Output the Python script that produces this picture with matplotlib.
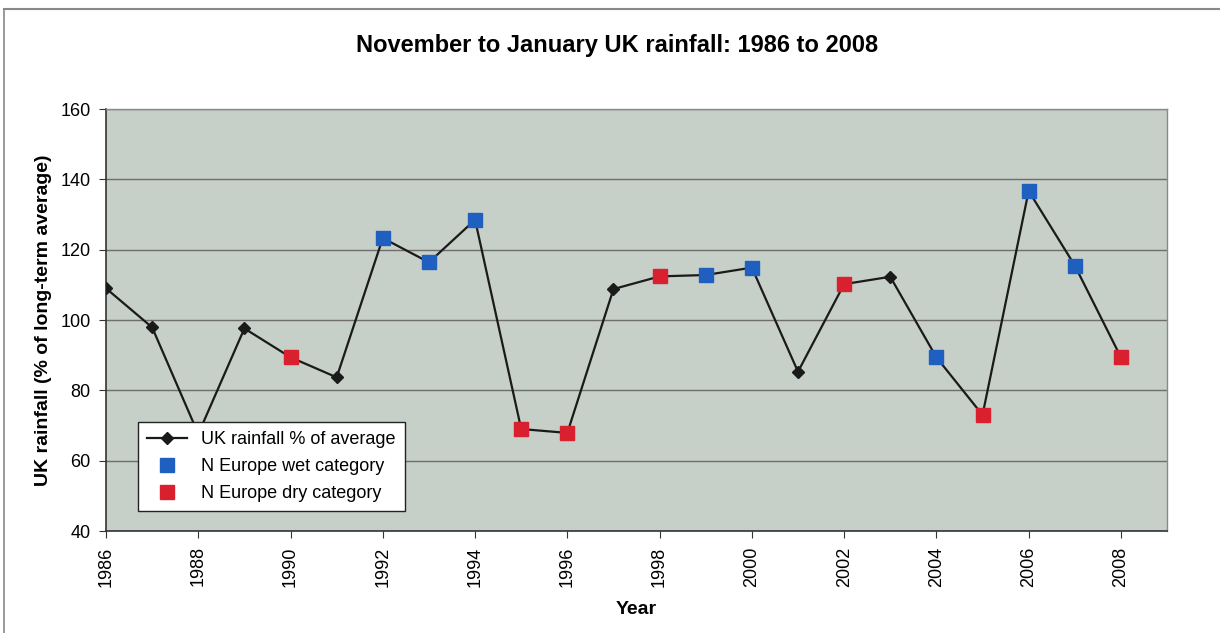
import matplotlib
matplotlib.use('Agg')
import matplotlib.pyplot as plt
from matplotlib.lines import Line2D

plt.rcParams['font.family'] = ['Liberation Sans', 'DejaVu Sans']

# Data
years = list(range(1986, 2009))
rainfall = [109.0, 97.9, 67.6, 97.6, 89.4, 83.7, 123.3, 116.4, 128.5, 69.0,
            67.9, 108.8, 112.4, 112.8, 114.9, 85.3, 110.2, 112.3, 89.4, 73.0,
            136.7, 115.5, 89.4]
wet_years = [1992, 1993, 1994, 1999, 2000, 2004, 2006, 2007]
dry_years = [1990, 1995, 1996, 1998, 2002, 2005, 2008]

wet_vals = [rainfall[years.index(y)] for y in wet_years]
dry_vals = [rainfall[years.index(y)] for y in dry_years]

fig = plt.figure(figsize=(12.2, 6.33), dpi=100)
fig.set_facecolor('white')
ax = fig.add_axes([0.0869, 0.1611, 0.8697, 0.6667])
ax.set_facecolor('#c6cfc8')

# Outer chart border (top and left visible)
fig.add_artist(Line2D([0.003, 1.0], [0.986, 0.986], color='#888888', lw=1.5))
fig.add_artist(Line2D([0.003, 0.003], [0.0, 0.986], color='#888888', lw=1.2))

# Grid lines
ax.set_axisbelow(True)
ax.grid(axis='y', color='#6e6e6e', linewidth=1.0)

# Main line
ax.plot(years, rainfall, color='#1a1a1a', linewidth=1.6, marker='D',
        markersize=6, markerfacecolor='#1a1a1a', zorder=3,
        label='UK rainfall % of average')

# Category markers
ax.plot(wet_years, wet_vals, linestyle='none', marker='s', markersize=10,
        color='#1f5fbf', markeredgecolor='#1f5fbf', zorder=4,
        label='N Europe wet category')
ax.plot(dry_years, dry_vals, linestyle='none', marker='s', markersize=10,
        color='#d9202e', markeredgecolor='#d9202e', zorder=4,
        label='N Europe dry category')

ax.set_xlim(1986, 2009)
ax.set_ylim(40, 160)
ax.set_xticks(range(1986, 2009, 2))
ax.set_yticks(range(40, 161, 20))
ax.tick_params(axis='x', labelrotation=90, labelsize=13, length=5,
               color='#333333', pad=6)
ax.tick_params(axis='y', labelsize=13, length=5, color='#333333', pad=6)

for side in ['left', 'bottom']:
    ax.spines[side].set_color('#333333')
    ax.spines[side].set_linewidth(1.2)
for side in ['top', 'right']:
    ax.spines[side].set_color('#8a8a8a')
    ax.spines[side].set_linewidth(1.0)

# Title and axis labels
fig.text(0.506, 0.928, 'November to January UK rainfall: 1986 to 2008',
         ha='center', va='center', fontsize=17, fontweight='bold')
ax.set_xlabel('Year', fontsize=14, fontweight='bold', labelpad=10)
ax.set_ylabel('UK rainfall (% of long-term average)', fontsize=14,
              fontweight='bold', labelpad=6)

# Legend
leg = ax.legend(loc='lower left', bbox_to_anchor=(0.03, 0.047),
                borderaxespad=0, fontsize=13, frameon=True, fancybox=False,
                edgecolor='#222222', framealpha=1, handlelength=2.2,
                labelspacing=0.55, borderpad=0.5)
leg.get_frame().set_linewidth(1.0)

plt.savefig('out.png', dpi=100)
